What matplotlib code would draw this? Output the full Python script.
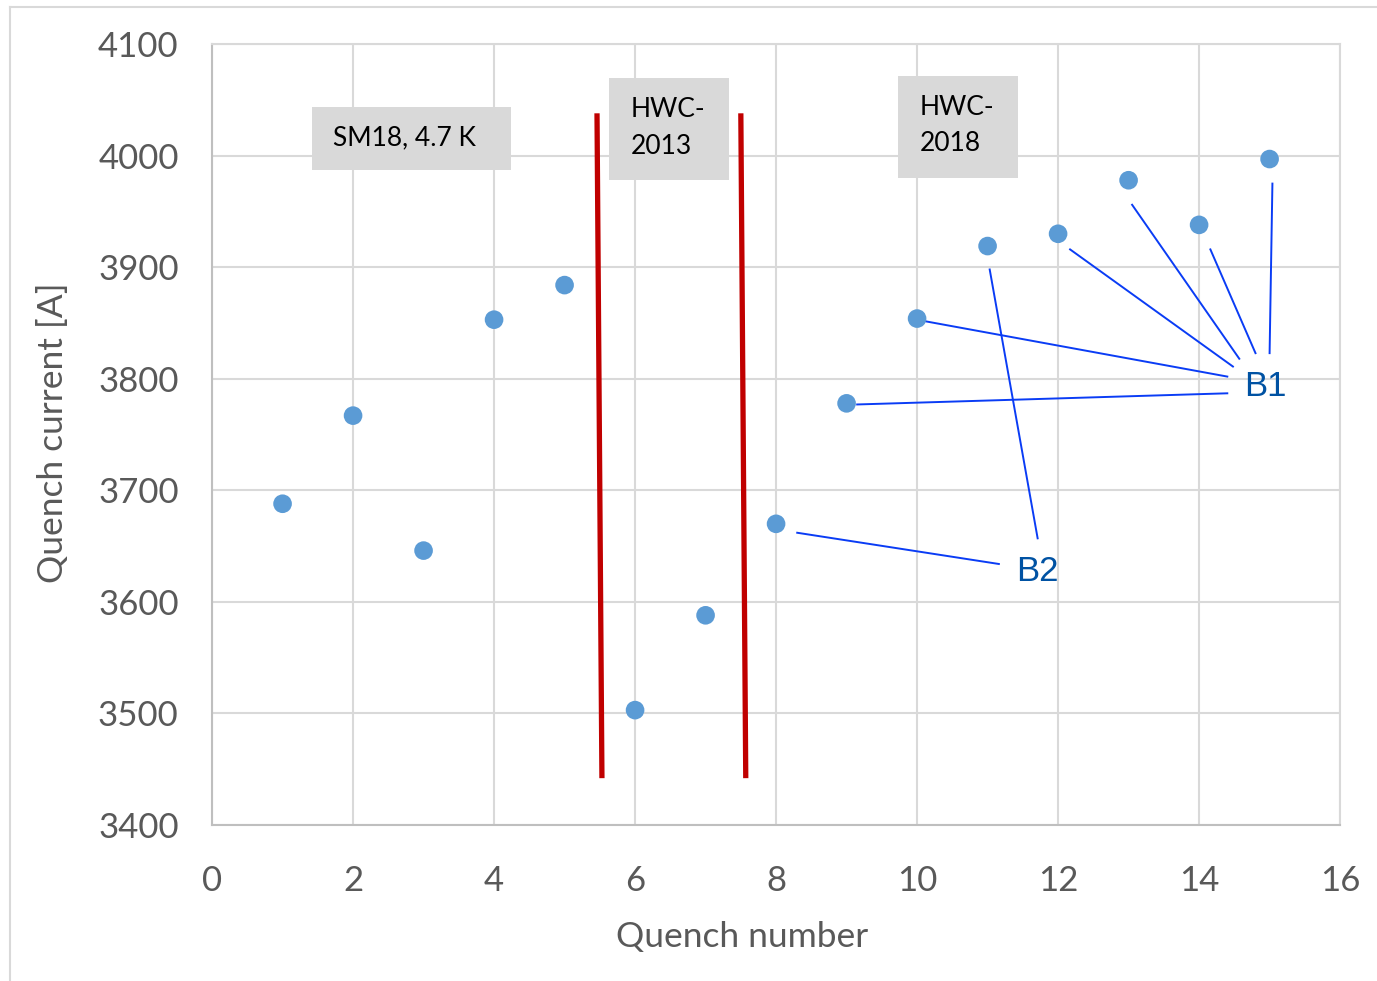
import matplotlib
matplotlib.use("Agg")
from matplotlib import pyplot as plt
from matplotlib.patches import Rectangle
from matplotlib.lines import Line2D

# quench data
quench_no = [1, 2, 3, 4, 5, 6, 7, 8, 9, 10, 11, 12, 13, 14, 15]
quench_current = [3688, 3767, 3646, 3853, 3884, 3503, 3588, 3670,
                  3778, 3854, 3919, 3930, 3978, 3938, 3997]

# campaign separators (bottom/top end of each red line)
sep_x = [(5.46, 5.53), (7.50, 7.57)]
sep_y = (4038, 3442)

x_ticks = [0, 2, 4, 6, 8, 10, 12, 14, 16]
y_ticks = [3400, 3500, 3600, 3700, 3800, 3900, 4000, 4100]

# leader lines: (x0, y0, x1, y1)
b1_leaders = [(9.15, 3777, 14.40, 3787),
              (10.08, 3852, 14.40, 3802),
              (12.17, 3916, 14.48, 3811),
              (13.05, 3956, 14.57, 3818),
              (14.16, 3916, 14.80, 3823),
              (15.04, 3975, 15.00, 3823)]
b2_leaders = [(11.03, 3898, 11.71, 3657),
              (8.30, 3662, 11.16, 3634)]

grey = "#595959"
font = ["Lato", "DejaVu Sans"]

fig = plt.figure(figsize=(13.77, 9.81), dpi=100)
ax = fig.add_axes([0.154, 0.159, 0.8192, 0.796])

ax.set_xlim(0, 16)
ax.set_ylim(3400, 4100)
ax.set_xticks(x_ticks)
ax.set_yticks(y_ticks)
ax.grid(True, color="#D9D9D9", linewidth=1.5, zorder=0)
ax.set_axisbelow(True)
for s in ax.spines.values():
    s.set_color("#D9D9D9")
    s.set_linewidth(1.5)
ax.spines["left"].set_color("#BFBFBF")
ax.spines["bottom"].set_color("#BFBFBF")
ax.tick_params(length=0, labelsize=25, labelcolor=grey)
ax.tick_params(axis="x", pad=29)
ax.tick_params(axis="y", pad=24)
for lab in ax.get_xticklabels() + ax.get_yticklabels():
    lab.set_family(font)

ax.set_xlabel("Quench number", fontsize=25.5, color=grey, family=font)
ax.set_ylabel("Quench current [A]", fontsize=25.5, color=grey, family=font)
ax.xaxis.set_label_coords(0.47, -0.123)
ax.yaxis.set_label_coords(-0.127, 0.503)

# red campaign separators
for xs in sep_x:
    ax.plot(xs, sep_y, color="#C00000", linewidth=3.8, solid_capstyle="butt", zorder=3)

# leader lines
for x0, y0, x1, y1 in b1_leaders + b2_leaders:
    ax.plot([x0, x1], [y0, y1], color="#0A3CF5", linewidth=1.4, zorder=3)

ax.scatter(quench_no, quench_current, s=180, color="#5B9BD5", edgecolors="none", zorder=4)

ax.text(14.94, 3793, "B1", fontsize=25, color="#0052A3", ha="center", va="center",
        family=["Liberation Sans", "DejaVu Sans"])
ax.text(11.70, 3627, "B2", fontsize=25, color="#0052A3", ha="center", va="center",
        family=["Liberation Sans", "DejaVu Sans"])

# grey label boxes
boxes = [((1.42, 3987), 2.82, 56.5, 1.72, 4016, "SM18, 4.7 K"),
         ((5.63, 3978), 1.70, 91.5, 5.94, 4025, "HWC-\n2013"),
         ((9.73, 3980), 1.70, 91.5, 10.04, 4027, "HWC-\n2018")]
for (bx, by), bw, bh, tx, ty, txt in boxes:
    ax.add_patch(Rectangle((bx, by), bw, bh, facecolor="#D9D9D9", edgecolor="none", zorder=2))
    ax.text(tx, ty, txt, fontsize=19, color="black", ha="left", va="center",
            linespacing=1.58, family=font, zorder=5)

# outer chart frame
fig.add_artist(Line2D([0.0072, 0.0072], [0, 0.993], color="#D9D9D9", linewidth=1.5))
fig.add_artist(Line2D([0.0072, 1], [0.993, 0.993], color="#D9D9D9", linewidth=1.5))

fig.savefig("out.png", dpi=100)
